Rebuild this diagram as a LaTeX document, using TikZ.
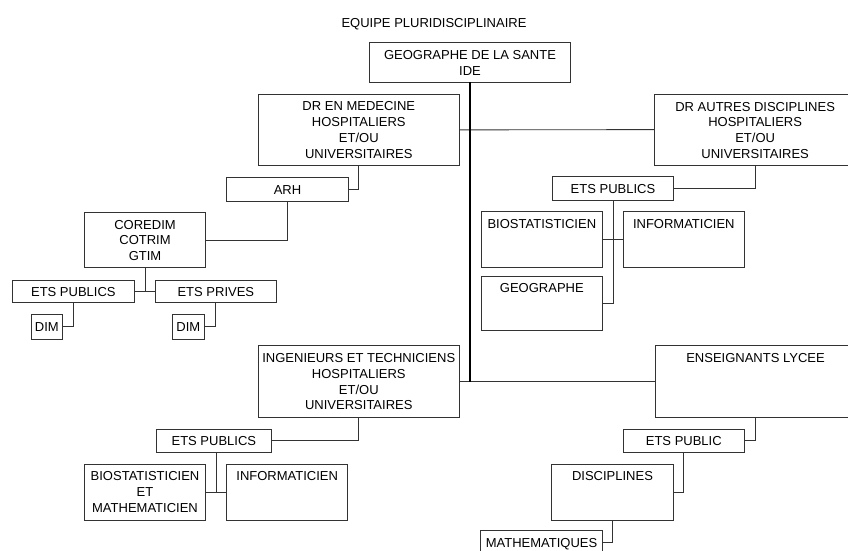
\documentclass[tikz,border=0pt]{standalone}
\usepackage{fontspec}
\setmainfont{Liberation Sans}
\usetikzlibrary{calc}
\tikzset{
  box/.style={draw=black!80, line width=0.9pt, inner sep=0pt, outer sep=0pt, anchor=north west},
  boxtxt/.style={inner sep=0pt, anchor=north, align=center, font=\fontsize{13}{15.8}\selectfont},
  link/.style={draw=black!80, line width=0.9pt},
  trunk/.style={draw=black, line width=2pt}
}
\newcommand\mybox[6]{%
  \node[box, minimum width=#4-#2, minimum height=#5-#3] (#1) at (#2,#3) {};
  \node[boxtxt] (#1t) at ([yshift=-3.6pt]#1.north) {\rule{0pt}{13pt}#6};
}
\begin{document}
\begin{tikzpicture}[x=1pt,y=-1pt]
\useasboundingbox (0,0) rectangle (848,551);
\clip (0,0) rectangle (848,551);
\node[anchor=base, font=\fontsize{13}{15.8}\selectfont] (title) at (434,27.7) {EQUIPE PLURIDISCIPLINAIRE};
\mybox{geo}{369.3}{42.7}{570.7}{82.3}{GEOGRAPHE DE LA SANTE\\IDE}
\mybox{drmed}{258.3}{94}{459.3}{165.7}{DR EN MEDECINE\\HOSPITALIERS\\ET/OU\\UNIVERSITAIRES}
\mybox{draut}{654.3}{94.3}{856}{165}{DR AUTRES DISCIPLINES\\HOSPITALIERS\\ET/OU\\UNIVERSITAIRES}
\mybox{arh}{226.7}{177.3}{348.3}{201.7}{ARH}
\mybox{cored}{84.3}{212.3}{205.7}{267.7}{COREDIM\\COTRIM\\GTIM}
\mybox{etspub1}{12.7}{280}{134}{302.7}{ETS PUBLICS}
\mybox{etspriv}{155}{280}{276.7}{302.7}{ETS PRIVES}
\mybox{dim1}{31}{314.3}{62.7}{339.3}{DIM}
\mybox{dim2}{172.3}{314.3}{204.3}{339.3}{DIM}
\mybox{etspub2}{552.7}{176.7}{673.3}{200}{ETS PUBLICS}
\mybox{biost}{481}{211.7}{602.7}{267.3}{BIOSTATISTICIEN}
\mybox{info2}{623.3}{211.7}{744.3}{267.3}{INFORMATICIEN}
\mybox{geog}{481}{276}{602.7}{330.7}{GEOGRAPHE}
\mybox{inge}{258.3}{345.7}{459.3}{417.3}{INGENIEURS ET TECHNICIENS\\HOSPITALIERS\\ET/OU\\UNIVERSITAIRES}
\mybox{ens}{655}{345.7}{856}{417.3}{ENSEIGNANTS LYCEE}
\mybox{etspub3}{156}{429}{271.7}{452.3}{ETS PUBLICS}
\mybox{biom}{84.3}{464}{205.7}{520}{BIOSTATISTICIEN\\ET\\MATHEMATICIEN}
\mybox{info3}{226.7}{464}{347.7}{520}{INFORMATICIEN}
\mybox{etspubl}{623.3}{429}{744.3}{452.7}{ETS PUBLIC}
\mybox{disc}{551.7}{464}{673.3}{520}{DISCIPLINES}
\mybox{math}{480.7}{530.7}{602.3}{554}{MATHEMATIQUES}
% connectors
\draw[link] (drmed.east) -- (draut.west);
\draw[link] (inge.east) -- (ens.west);
\draw[link] (drmed.south) |- (arh.east);
\draw[link] (arh.south) |- (cored.east);
\draw[link] (etspub1.east) -- (etspriv.west);
\draw[link] (cored.south) -- (cored.south |- etspub1.east);
\draw[link] (etspub1.south) |- (dim1.east);
\draw[link] (etspriv.south) |- (dim2.east);
\draw[link] (draut.south) |- (etspub2.east);
\draw[link] (biost.east) -- (info2.west);
\draw[link] (etspub2.south) |- (geog.east);
\draw[link] (inge.south) |- (etspub3.east);
\coordinate (j3) at ($(biom.east)!0.5!(info3.west)$);
\draw[link] (biom.east) -- (info3.west);
\draw[link] (etspub3.south -| j3) -- (j3);
\draw[link] (ens.south) |- (etspubl.east);
\draw[link] (etspubl.south) |- (disc.east);
\draw[link] (disc.south) |- (math.east);
% trunk
\coordinate (tend) at (geo.south |- inge.east);
\draw[trunk] (geo.south) -- (tend);
\end{tikzpicture}
\end{document}
